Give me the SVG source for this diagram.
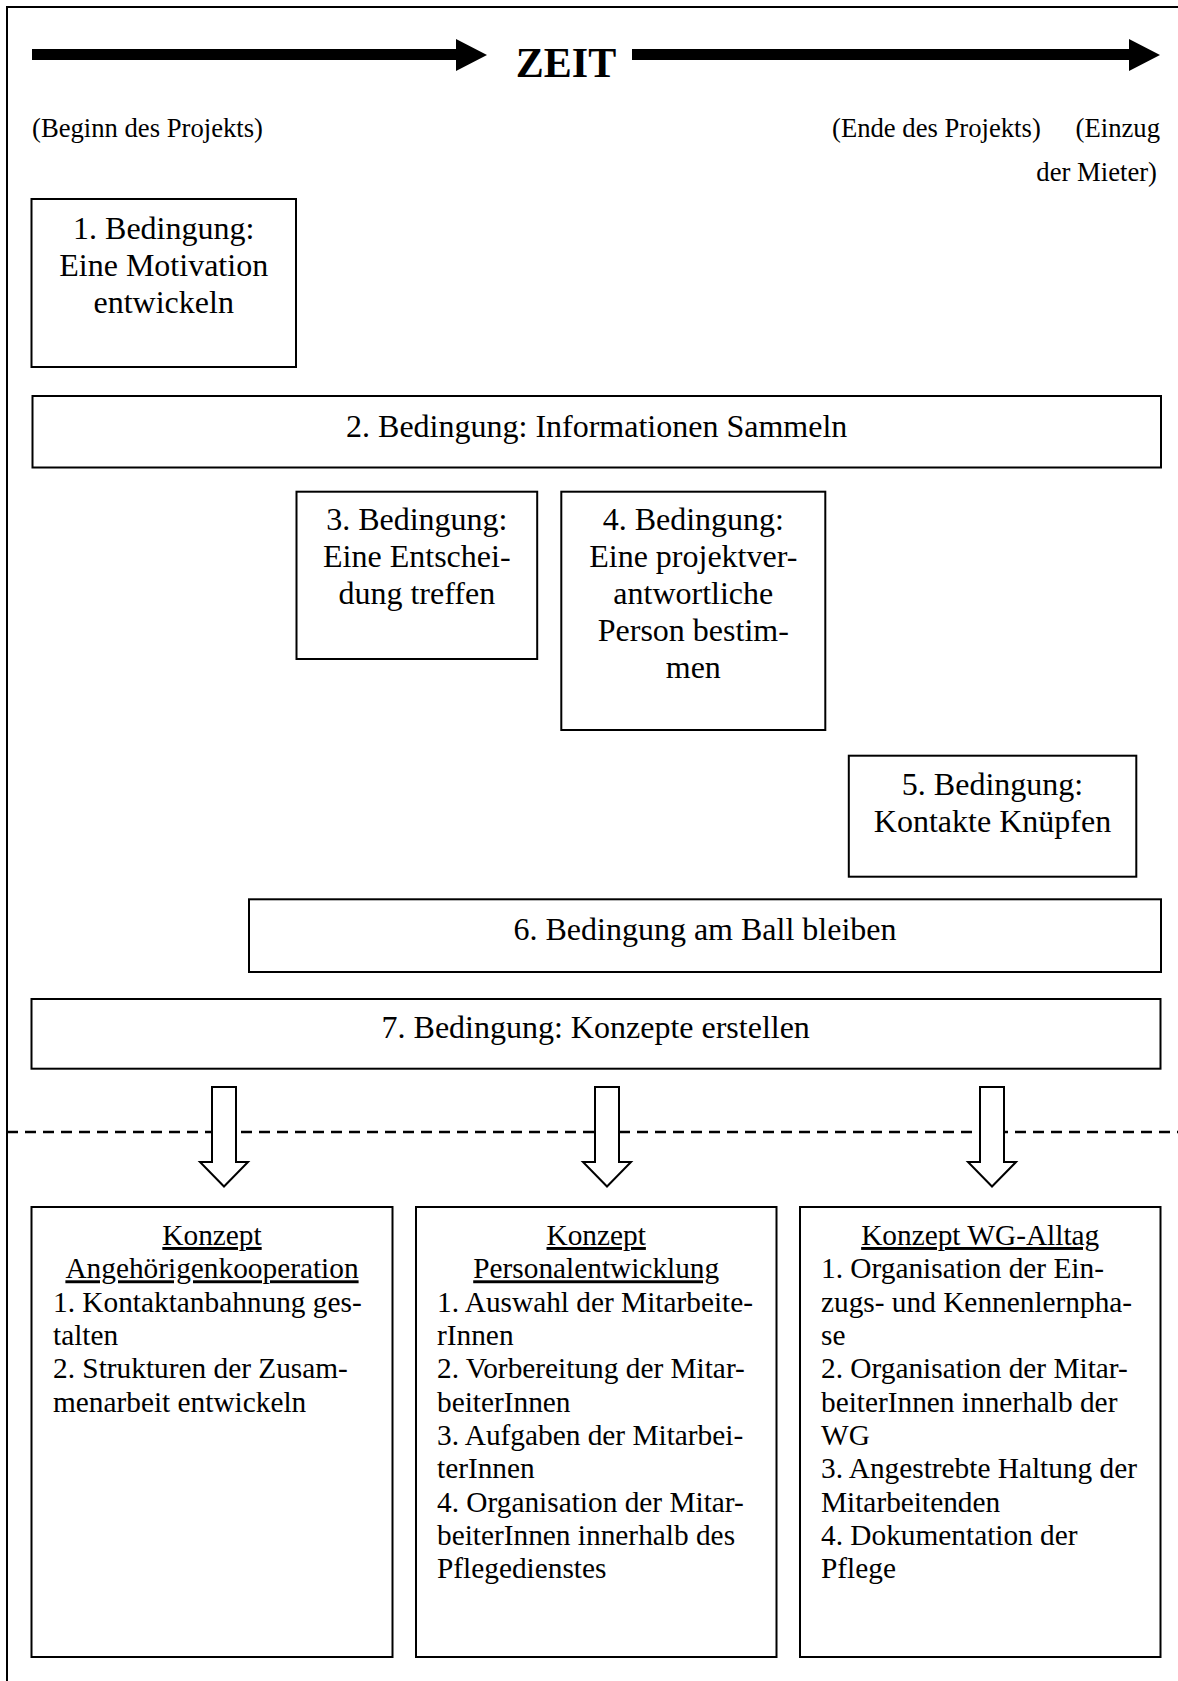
<svg xmlns="http://www.w3.org/2000/svg" width="1178" height="1681" viewBox="0 0 1178 1681">
<style>
text{font-family:"Liberation Serif","Times New Roman",serif;fill:#000}
.box{fill:#fff;stroke:#000;stroke-width:2}
.b{font-size:32px;text-anchor:middle}
.lab{font-size:26.67px}
.k{font-size:29.33px}
.kt{font-size:29.33px;text-anchor:middle;text-decoration:underline}
.ha{fill:#fff;stroke:#000;stroke-width:2;stroke-linejoin:miter}
</style>
<rect x="7" y="7" width="1200" height="1700" fill="none" stroke="#000" stroke-width="2"/>
<g id="zeitachse">
<rect x="32" y="49" width="424" height="11" fill="#000"/>
<polygon points="456,39 487,55 456,71" fill="#000"/>
<rect x="632" y="49" width="497" height="11" fill="#000"/>
<polygon points="1129,39 1160,55 1129,71" fill="#000"/>
<text x="566" y="77" style="font-size:42px;font-weight:bold;text-anchor:middle">ZEIT</text>
</g>
<g id="labels">
<text class="lab" x="32" y="136.7">(Beginn des Projekts)</text>
<text class="lab" x="832" y="136.7">(Ende des Projekts)</text>
<text class="lab" x="1160" y="136.7" text-anchor="end">(Einzug</text>
<text class="lab" x="1157" y="181" text-anchor="end">der Mieter)</text>
</g>
<g id="connectors">
<line x1="7" y1="1132" x2="1178" y2="1132" stroke="#000" stroke-width="2.5" stroke-dasharray="11 7"/>
<polygon class="ha" points="212,1087 236,1087 236,1162 248,1162 224,1186.5 200,1162 212,1162"/>
<polygon class="ha" points="595,1087 619,1087 619,1162 631,1162 607,1186.5 583,1162 595,1162"/>
<polygon class="ha" points="980,1087 1004,1087 1004,1162 1016,1162 992,1186.5 968,1162 980,1162"/>
</g>
<g id="b1">
<rect class="box" x="31.5" y="199" width="264.5" height="168"/>
<text class="b" x="163.7" y="239.3">1. Bedingung:</text>
<text class="b" x="163.7" y="276.3">Eine Motivation</text>
<text class="b" x="163.7" y="313.3">entwickeln</text>
</g>
<g id="b2">
<rect class="box" x="32.5" y="396" width="1128.5" height="71.5"/>
<text class="b" x="596.7" y="437">2. Bedingung: Informationen Sammeln</text>
</g>
<g id="b3">
<rect class="box" x="296.5" y="491.7" width="240.7" height="167.3"/>
<text class="b" x="416.8" y="530">3. Bedingung:</text>
<text class="b" x="416.8" y="567">Eine Entschei-</text>
<text class="b" x="416.8" y="604">dung treffen</text>
</g>
<g id="b4">
<rect class="box" x="561.3" y="491.7" width="264" height="238.3"/>
<text class="b" x="693.3" y="530">4. Bedingung:</text>
<text class="b" x="693.3" y="567">Eine projektver-</text>
<text class="b" x="693.3" y="604">antwortliche</text>
<text class="b" x="693.3" y="641">Person bestim-</text>
<text class="b" x="693.3" y="678">men</text>
</g>
<g id="b5">
<rect class="box" x="848.8" y="755.7" width="287.5" height="121"/>
<text class="b" x="992.5" y="795">5. Bedingung:</text>
<text class="b" x="992.5" y="832">Kontakte Knüpfen</text>
</g>
<g id="b6">
<rect class="box" x="249" y="899.3" width="912" height="72.7"/>
<text class="b" x="705" y="940">6. Bedingung am Ball bleiben</text>
</g>
<g id="b7">
<rect class="box" x="31.5" y="999" width="1129" height="69.7"/>
<text class="b" x="595.7" y="1038">7. Bedingung: Konzepte erstellen</text>
</g>
<g id="k1">
<rect class="box" x="31.5" y="1207" width="361" height="450"/>
<text class="kt" x="212" y="1245">Konzept</text>
<text class="kt" x="212" y="1278.3">Angehörigenkooperation</text>
<text class="k" x="53" y="1311.7">1. Kontaktanbahnung ges-</text>
<text class="k" x="53" y="1345">talten</text>
<text class="k" x="53" y="1378.3">2. Strukturen der Zusam-</text>
<text class="k" x="53" y="1411.7">menarbeit entwickeln</text>
</g>
<g id="k2">
<rect class="box" x="416" y="1207" width="360.5" height="450"/>
<text class="kt" x="596.2" y="1245">Konzept</text>
<text class="kt" x="596.2" y="1278.3">Personalentwicklung</text>
<text class="k" x="437" y="1311.7">1. Auswahl der Mitarbeite-</text>
<text class="k" x="437" y="1345">rInnen</text>
<text class="k" x="437" y="1378.3">2. Vorbereitung der Mitar-</text>
<text class="k" x="437" y="1411.7">beiterInnen</text>
<text class="k" x="437" y="1445">3. Aufgaben der Mitarbei-</text>
<text class="k" x="437" y="1478.3">terInnen</text>
<text class="k" x="437" y="1511.7">4. Organisation der Mitar-</text>
<text class="k" x="437" y="1545">beiterInnen innerhalb des</text>
<text class="k" x="437" y="1578.3">Pflegedienstes</text>
</g>
<g id="k3">
<rect class="box" x="800" y="1207" width="360.5" height="450"/>
<text class="kt" x="980.2" y="1245">Konzept WG-Alltag</text>
<text class="k" x="821" y="1278.3">1. Organisation der Ein-</text>
<text class="k" x="821" y="1311.7">zugs- und Kennenlernpha-</text>
<text class="k" x="821" y="1345">se</text>
<text class="k" x="821" y="1378.3">2. Organisation der Mitar-</text>
<text class="k" x="821" y="1411.7">beiterInnen innerhalb der</text>
<text class="k" x="821" y="1445">WG</text>
<text class="k" x="821" y="1478.3">3. Angestrebte Haltung der</text>
<text class="k" x="821" y="1511.7">Mitarbeitenden</text>
<text class="k" x="821" y="1545">4. Dokumentation der</text>
<text class="k" x="821" y="1578.3">Pflege</text>
</g>
</svg>
